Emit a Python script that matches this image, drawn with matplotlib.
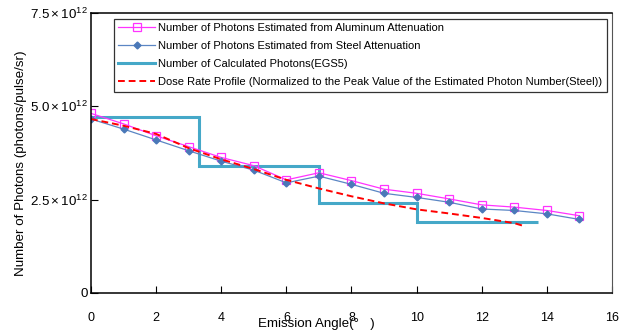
import matplotlib
matplotlib.use('Agg')
from matplotlib import pyplot as plt

plt.rcParams['font.family'] = ['Liberation Sans', 'DejaVu Sans']
plt.rcParams['mathtext.fontset'] = 'custom'
plt.rcParams['mathtext.rm'] = 'Liberation Sans'
plt.rcParams['mathtext.it'] = 'Liberation Sans'
plt.rcParams['mathtext.default'] = 'regular'

# estimated photon numbers per emission angle
angles = [0, 1, 2, 3, 4, 5, 6, 7, 8, 9, 10, 11, 12, 13, 14, 15]
photons_al = [4.81, 4.53, 4.21, 3.92, 3.63, 3.41, 3.03, 3.22, 3.01, 2.78,
              2.67, 2.52, 2.36, 2.30, 2.21, 2.07]
photons_steel = [4.66, 4.39, 4.10, 3.81, 3.53, 3.29, 2.95, 3.13, 2.91, 2.67,
                 2.56, 2.43, 2.25, 2.21, 2.12, 1.97]

# EGS5 calculated photons (binned, drawn as steps)
egs_edges = [0, 3.32, 7.0, 10.0, 13.72]
egs_values = [4.72, 3.41, 2.42, 1.89]

# dose rate profile normalized to steel peak
dose_angles = [0, 1, 2, 3, 4, 5, 6, 7, 8, 9, 10, 11, 12, 13, 13.35]
dose_values = [4.66, 4.48, 4.26, 3.88, 3.58, 3.32, 3.03, 2.80, 2.59, 2.40,
               2.24, 2.13, 2.01, 1.87, 1.78]

yticks = [0, 2.5e12, 5.0e12, 7.5e12]
ytick_labels = ['0', r'$2.5\times10^{12}$', r'$5.0\times10^{12}$', r'$7.5\times10^{12}$']
xticks = [0, 2, 4, 6, 8, 10, 12, 14, 16]

scale = 1e12
fig = plt.figure(figsize=(6.26, 3.34), dpi=100)
ax = fig.add_axes([0.1454, 0.1228, 0.8322, 0.8383])

ax.plot(angles, [v * scale for v in photons_al], color='#FF33FF', lw=0.9,
        marker='s', ms=5.5, mfc='none', mec='#FF33FF', mew=0.9,
        label='Number of Photons Estimated from Aluminum Attenuation')
ax.plot(angles, [v * scale for v in photons_steel], color='#5B86C4', lw=0.9,
        marker='D', ms=3.5, mfc='#4A78B8', mec='#4A78B8',
        label='Number of Photons Estimated from Steel Attenuation')
ax.stairs([v * scale for v in egs_values], egs_edges, color='#45A8C8', lw=2.2,
          baseline=None, label='Number of Calculated Photons(EGS5)')
ax.plot(dose_angles, [v * scale for v in dose_values], color='#FF0000', lw=1.4,
        ls=(0, (3.5, 2)),
        label='Dose Rate Profile (Normalized to the Peak Value of the Estimated Photon Number(Steel))')

ax.set_xlim(0, 16)
ax.set_ylim(0, 7.5e12)
ax.set_xticks(xticks)
ax.set_yticks(yticks)
ax.set_yticklabels(ytick_labels)
ax.tick_params(axis='x', direction='in', length=5, pad=14, labelsize=9)
ax.tick_params(axis='y', direction='in', length=5, pad=2, labelsize=9.6)

for side in ['left', 'bottom', 'top']:
    ax.spines[side].set_linewidth(1.1)
ax.spines['right'].set_color('#555555')

ax.set_ylabel('Number of Photons (photons/pulse/sr)', fontsize=9.6)
ax.yaxis.set_label_coords(-0.122, 0.464)
ax.set_xlabel('Emission Angle(°   )', fontsize=9.6, va='center')
ax.xaxis.set_label_coords(0.432, -0.111)

leg = ax.legend(loc='upper left', bbox_to_anchor=(0.044, 0.979), borderaxespad=0,
                fontsize=8.0, handlelength=3.3, handletextpad=0.3, labelspacing=0.72,
                borderpad=0.4, fancybox=False, framealpha=1, edgecolor='#333333')
leg.get_frame().set_linewidth(0.9)

fig.savefig('out.png', dpi=100)
